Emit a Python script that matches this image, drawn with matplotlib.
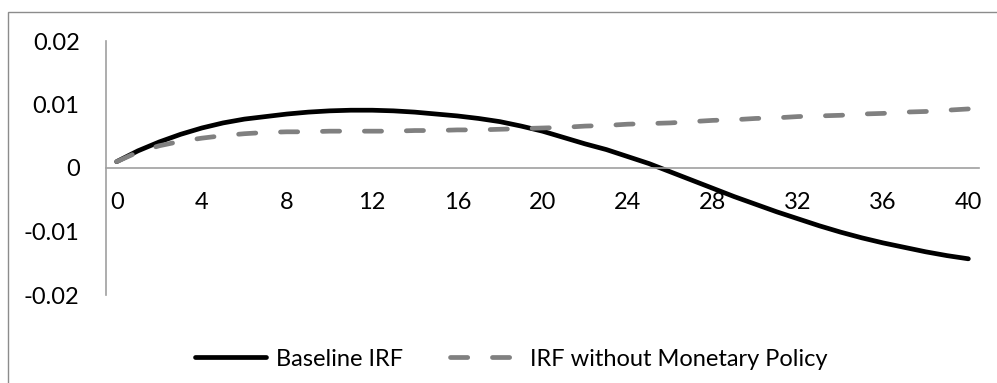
import matplotlib.pyplot as plt
import numpy as np
from matplotlib.patches import Rectangle

periods = np.arange(0, 41)
baseline = [0.0010, 0.0027, 0.0041, 0.0053, 0.0063, 0.0071, 0.0077, 0.0081, 0.0085, 0.0088,
            0.0090, 0.0091, 0.0091, 0.0090, 0.0088, 0.0085, 0.0082, 0.0078, 0.0073, 0.0066,
            0.0058, 0.0048, 0.0038, 0.0029, 0.0018, 0.0007, -0.0006, -0.0019, -0.0032, -0.0045,
            -0.0057, -0.0069, -0.0080, -0.0091, -0.0101, -0.0110, -0.0118, -0.0125, -0.0132, -0.0138,
            -0.0143]
no_policy = [0.0010, 0.0025, 0.0035, 0.0042, 0.0047, 0.0051, 0.0054, 0.0056, 0.0057, 0.0057,
             0.0058, 0.0058, 0.0058, 0.0058, 0.0059, 0.0059, 0.0060, 0.0060, 0.0061, 0.0062,
             0.0063, 0.0064, 0.0066, 0.0067, 0.0069, 0.0070, 0.0071, 0.0073, 0.0075, 0.0076,
             0.0078, 0.0079, 0.0081, 0.0082, 0.0083, 0.0085, 0.0086, 0.0088, 0.0089, 0.0091,
             0.0093]
xticks = np.arange(0, 41, 4)
yticks = [-0.02, -0.01, 0, 0.01, 0.02]
ytick_labels = ['-0.02', '-0.01', '0', '0.01', '0.02']

plt.rcParams['font.family'] = ['Lato', 'DejaVu Sans']
fs = 17
axis_col = '#a0a0a0'

W, H = 997, 383
fig = plt.figure(figsize=(W / 100, H / 100), dpi=100)
ax = fig.add_axes([106 / W, 1 - 295 / H, (979 - 106) / W, (295 - 41) / H])

lw = 3.4
ax.plot(periods, baseline, color='black', lw=lw, solid_capstyle='round',
        label='Baseline IRF')
ax.plot(periods, no_policy, color='#808080', lw=lw, dashes=(12.4 / lw, 17.8 / lw),
        dash_capstyle='round', label='IRF without Monetary Policy')

ax.set_xlim(-0.5, 40.5)
ax.set_ylim(-0.02, 0.02)
ax.set_xticks(xticks)
ax.set_xticklabels([str(t) for t in xticks])
ax.set_yticks(yticks)
ax.set_yticklabels(ytick_labels)

for s in ['top', 'right']:
    ax.spines[s].set_visible(False)
ax.spines['bottom'].set_position(('data', 0))
ax.spines['bottom'].set_color(axis_col)
ax.spines['left'].set_color(axis_col)
ax.spines['bottom'].set_linewidth(1.2)
ax.spines['left'].set_linewidth(1.2)
ax.tick_params(axis='x', length=0, pad=17, labelsize=fs)
ax.tick_params(axis='y', length=0, pad=19, labelsize=fs)

# chart border (cut at right/bottom like the source)
fig.add_artist(Rectangle((8 / W, -0.1), 1.2, 1.1 - 12 / H, transform=fig.transFigure,
                         fill=False, ec='#8c8c8c', lw=1.0))

fig.legend(loc='center', bbox_to_anchor=(0.513, 1 - 359 / H), ncol=2, frameon=False,
           fontsize=fs, handlelength=3.0, handletextpad=0.4, columnspacing=2.0)

fig.savefig('out.png', dpi=100)
